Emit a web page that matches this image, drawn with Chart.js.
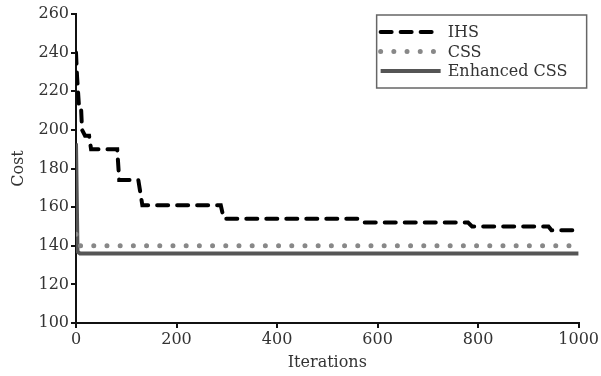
<!DOCTYPE html>
<html>
<head>
<meta charset="utf-8">
<script src="https://cdn.jsdelivr.net/npm/chart.js@4"></script>
<style>
	html, body { margin: 0; padding: 0; background: #fff; }
	#wrap { width: 601px; height: 376px; }
</style>
</head>
<body>
<div id="wrap"><canvas id="c" width="601" height="376"></canvas></div>
<script>
// values: [iteration, cost]
const ihsIter = [0, 2, 4, 6, 10, 12, 18, 26, 30, 82, 86, 124, 132, 288, 294, 560, 568, 780, 788, 940, 946, 1000]
const ihsCost = [240, 228, 220, 212, 212, 200, 197, 197, 190, 190, 174, 174, 161, 161, 154, 154, 152, 152, 150, 150, 148, 148]
const cssIter = [0, 4, 8, 1000]
const cssCost = [146, 141, 140, 140]
const ecssIter = [0, 3, 8, 1000]
const ecssCost = [193, 137, 136, 136]
const yTicks = [100, 120, 140, 160, 180, 200, 220, 240, 260]

const FONT = 'DejaVu Serif'
const TXT = '#333'
const pts = (xs, ys) => xs.map((x, i) => ({ x, y: ys[i] }))

// hand-drawn legend so the dashed/dotted samples look like the lines
const boxLegend = {
	id: 'boxLegend',
	afterDraw(chart) {
		const { ctx, chartArea } = chart
		const left = chartArea.right - 202, top = chartArea.top + 1
		const w = 210, h = 73
		ctx.save()
		ctx.strokeStyle = '#666'
		ctx.lineWidth = 1.5
		ctx.strokeRect(left, top, w, h)
		ctx.font = `16px "${FONT}"`
		ctx.textBaseline = 'middle'
		chart.data.datasets.forEach((ds, i) => {
			const y = top + 17 + i * 19.5
			ctx.beginPath()
			ctx.strokeStyle = ds.borderColor
			ctx.lineWidth = ds.borderWidth
			ctx.lineCap = ds.borderCapStyle || 'butt'
			ctx.setLineDash(ds.borderDash || [])
			ctx.moveTo(left + 4, y)
			ctx.lineTo(left + 64, y)
			ctx.stroke()
			ctx.setLineDash([])
			ctx.fillStyle = TXT
			ctx.fillText(ds.label, left + 71, y + 1)
		})
		ctx.restore()
	}
}

new Chart(document.getElementById('c'), {
	type: 'line',
	data: {
		datasets: [{
			label: 'IHS',
			data: pts(ihsIter, ihsCost),
			borderColor: '#000',
			borderWidth: 4,
			borderDash: [11, 9],
			borderCapStyle: 'round',
			pointRadius: 0,
			tension: 0
		}, {
			label: 'CSS',
			data: pts(cssIter, cssCost),
			borderColor: '#888',
			borderWidth: 5,
			borderDash: [0, 13.2],
			borderCapStyle: 'round',
			pointRadius: 0,
			tension: 0
		}, {
			label: 'Enhanced CSS',
			data: pts(ecssIter, ecssCost),
			borderColor: '#555',
			borderWidth: 4,
			pointRadius: 0,
			tension: 0
		}]
	},
	options: {
		responsive: false,
		animation: false,
		layout: { padding: { top: 14, right: 19, left: 5, bottom: 0 } },
		plugins: { legend: { display: false }, tooltip: { enabled: false } },
		scales: {
			x: {
				type: 'linear',
				min: 0, max: 1000,
				afterFit: s => { s.height = 53 },
				border: { color: '#111', width: 2 },
				grid: { drawOnChartArea: false, drawTicks: true, tickLength: 5, color: '#111', lineWidth: 2 },
				ticks: { stepSize: 200, maxRotation: 0, color: TXT, font: { family: FONT, size: 16 }, padding: 2, callback: v => String(v) },
				title: { display: true, text: 'Iterations', color: TXT, font: { family: FONT, size: 16 }, padding: { top: 0 } }
			},
			y: {
				min: 100, max: 260,
				afterFit: s => { s.width = 71 },
				afterBuildTicks: s => { s.ticks = yTicks.map(v => ({ value: v })) },
				border: { color: '#111', width: 2 },
				grid: { drawOnChartArea: false, drawTicks: true, tickLength: 5, color: '#111', lineWidth: 2 },
				ticks: { color: TXT, font: { family: FONT, size: 16 }, padding: 2 },
				title: { display: true, text: 'Cost', color: TXT, font: { family: FONT, size: 16 }, padding: { bottom: 4 } }
			}
		}
	},
	plugins: [boxLegend]
})
</script>
</body>
</html>
